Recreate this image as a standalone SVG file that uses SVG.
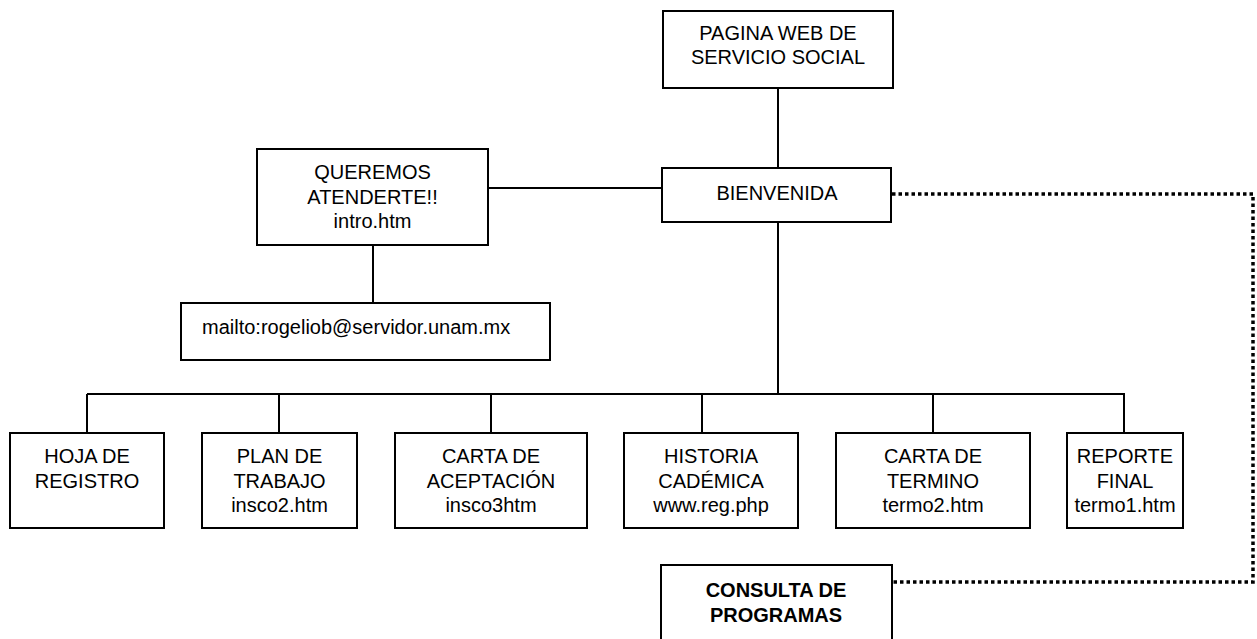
<svg xmlns="http://www.w3.org/2000/svg" width="1257" height="639" viewBox="0 0 1257 639">
<style>
.box{fill:#fff;stroke:#000;stroke-width:2}
.ln{stroke:#000;stroke-width:2;fill:none}
.dot{stroke:#000;stroke-width:3.5;fill:none;stroke-dasharray:3.5 3}
text{font-family:"Liberation Sans",Arial,sans-serif;font-size:20px;fill:#000;text-anchor:middle}
.b{font-weight:bold}
</style>
<rect width="1257" height="639" fill="#fff"/>
<g id="connectors">
<line class="ln" x1="778" y1="88" x2="778" y2="168"/>
<line class="ln" x1="488" y1="188" x2="662" y2="188"/>
<line class="ln" x1="373" y1="245" x2="373" y2="303"/>
<line class="ln" x1="778" y1="222" x2="778" y2="394"/>
<line class="ln" x1="87" y1="394" x2="1125" y2="394"/>
<line class="ln" x1="87" y1="394" x2="87" y2="433"/>
<line class="ln" x1="279" y1="394" x2="279" y2="433"/>
<line class="ln" x1="491" y1="394" x2="491" y2="433"/>
<line class="ln" x1="702" y1="394" x2="702" y2="433"/>
<line class="ln" x1="933" y1="394" x2="933" y2="433"/>
<line class="ln" x1="1124" y1="394" x2="1124" y2="433"/>
<polyline class="dot" points="892,194 1253,194 1253,582 893,582"/>
</g>
<g id="n-pagina"><rect class="box" x="663" y="11" width="230" height="77"/><text x="778" y="40">PAGINA WEB DE</text><text x="778" y="64">SERVICIO SOCIAL</text></g>
<g id="n-bienvenida"><rect class="box" x="662" y="168" width="229" height="54"/><text x="777" y="200">BIENVENIDA</text></g>
<g id="n-queremos"><rect class="box" x="257" y="149" width="231" height="96"/><text x="372.5" y="179">QUEREMOS</text><text x="372.5" y="204">ATENDERTE!!</text><text x="372.5" y="228">intro.htm</text></g>
<g id="n-mailto"><rect class="box" x="181" y="303" width="369" height="57"/><text x="202" y="334" style="text-anchor:start">mailto:rogeliob@servidor.unam.mx</text></g>
<g id="n-hoja"><rect class="box" x="10" y="433" width="154" height="95"/><text x="87" y="463">HOJA DE</text><text x="87" y="488">REGISTRO</text></g>
<g id="n-plan"><rect class="box" x="202" y="433" width="155" height="95"/><text x="279.5" y="463">PLAN DE</text><text x="279.5" y="488">TRABAJO</text><text x="279.5" y="512">insco2.htm</text></g>
<g id="n-aceptacion"><rect class="box" x="395" y="433" width="192" height="95"/><text x="491" y="463">CARTA DE</text><text x="491" y="488">ACEPTACIÓN</text><text x="491" y="512">insco3htm</text></g>
<g id="n-historia"><rect class="box" x="624" y="433" width="174" height="95"/><text x="711" y="463">HISTORIA</text><text x="711" y="488">CADÉMICA</text><text x="711" y="512">www.reg.php</text></g>
<g id="n-termino"><rect class="box" x="836" y="433" width="194" height="95"/><text x="933" y="463">CARTA DE</text><text x="933" y="488">TERMINO</text><text x="933" y="512">termo2.htm</text></g>
<g id="n-reporte"><rect class="box" x="1067" y="433" width="116" height="95"/><text x="1125" y="463">REPORTE</text><text x="1125" y="488">FINAL</text><text x="1125" y="512">termo1.htm</text></g>
<g id="n-consulta"><rect class="box" x="661" y="565" width="231" height="90"/><text class="b" x="776" y="597">CONSULTA DE</text><text class="b" x="776" y="622">PROGRAMAS</text></g>
</svg>
